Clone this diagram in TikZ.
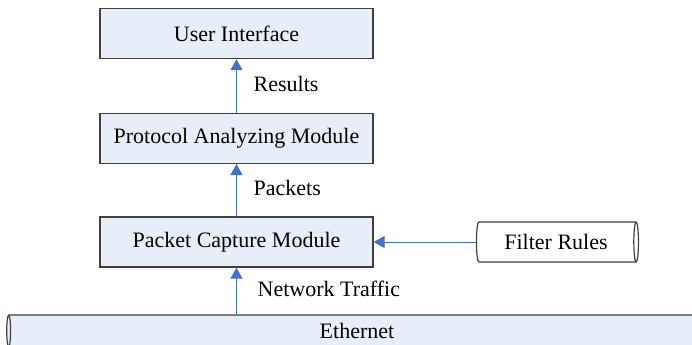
\documentclass[tikz,border=0pt]{standalone}
\usepackage{fontspec}
\setmainfont{Liberation Serif}
\usetikzlibrary{shapes.geometric,arrows.meta}
\definecolor{boxfill}{RGB}{232,238,248}
\definecolor{flowblue}{RGB}{68,114,196}
\begin{document}
\begin{tikzpicture}[x=0.5pt,y=-0.5pt,
    font=\fontsize{11}{13}\selectfont,
    module/.style={draw=black!75,line width=0.7pt,fill=boxfill,minimum width=136.5pt,minimum height=25pt,inner sep=0pt},
    pipe/.style={cylinder,draw=black!75,line width=0.6pt,inner sep=0pt},
    flow/.style={draw=flowblue,line width=0.5pt,-{Triangle[length=5.5pt,width=6pt]}}]
    \useasboundingbox (0,0) rectangle (692,344);
    % the three stacked modules
    \node[module] (ui)  at (236.5,33.5)  {User Interface};
    \node[module] (pam) at (236.5,138.3) {Protocol Analyzing Module};
    \node[module] (pcm) at (236.5,242)   {Packet Capture Module};
    % filter store and the wire below (cylinder: height runs along the axis)
    \node[pipe,fill=white,aspect=0.3,minimum height=81pt,minimum width=20pt] (filter) at (556,242) {Filter Rules};
    \node[pipe,fill=boxfill,shape border rotate=180,aspect=0.25,minimum height=349pt,minimum width=16pt] (eth) at (357,331) {Ethernet};
    \foreach \from/\to/\lbl in {pam/ui/Results, pcm/pam/Packets} {
        \draw[flow] (\from) -- (\to) node[midway,right=5pt,yshift=1pt] {\lbl};
    }
    \draw[flow] (eth.north -| pcm) -- (pcm) node[midway,right=7pt,yshift=1pt] {Network Traffic};
    \draw[flow] (filter) -- (pcm);
\end{tikzpicture}
\end{document}
